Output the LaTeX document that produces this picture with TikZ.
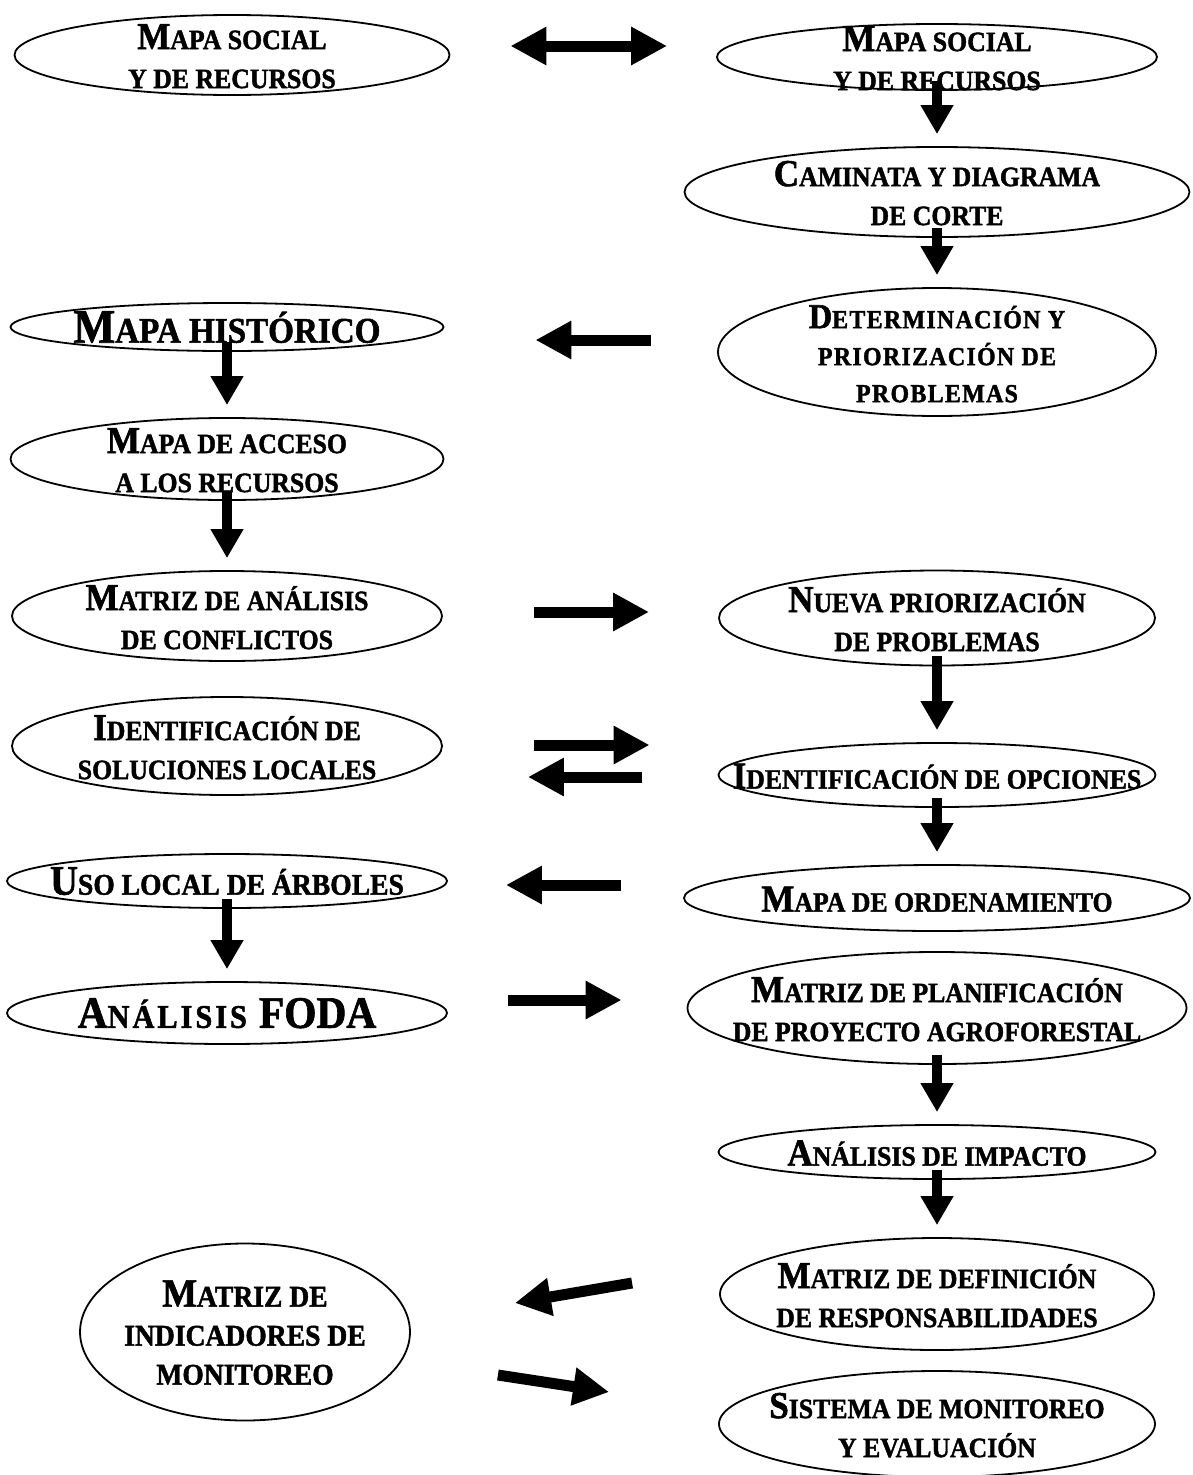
\documentclass[tikz,border=0pt]{standalone}
\usepackage{fontspec}
\setmainfont{Liberation Serif}[FakeStretch=0.92, BoldFeatures={FakeBold=1.5}]
\usetikzlibrary{arrows.meta,shapes.geometric}

% versalita: inicial grande, resto en mayusculas pequenas
\newcommand\ini[2][38]{{\fontsize{#1}{#1}\selectfont #2}}
\newcommand\lema[1]{\smash{\makebox[0pt]{\raisebox{-12pt}{\begin{tabular}{@{}c@{}}#1\end{tabular}}}}}

\tikzset{
  letra/.style={font=\bfseries\fontsize{#1}{39}\selectfont},
  letra/.default=28,
  etapa/.style={draw, ellipse, line width=1.8pt, inner sep=0pt, letra},
  paso/.style={line width=10pt, shorten <=-10pt, shorten >=12pt,
    -{Triangle[length=29pt,width=31pt]}},
  cruce/.style={line width=11pt, -{Triangle[length=36pt,width=36pt]}}
}

\begin{document}
\begin{tikzpicture}[x=1pt, y=-1pt]
  \useasboundingbox (0,0) rectangle (1192,1475);

  % columna izquierda
  \node[etapa, minimum width=435, minimum height=80] (l1) at (232,55) {\lema{\ini{M}APA SOCIAL\\Y DE RECURSOS}};
  \node[etapa, minimum width=433, minimum height=48, letra=36] (l2) at (227,327) {\lema{\ini[48]{M}APA HISTÓRICO}};
  \node[etapa, minimum width=433, minimum height=82] (l3) at (227,459) {\lema{\ini{M}APA DE ACCESO\\A LOS RECURSOS}};
  \node[etapa, minimum width=430, minimum height=90] (l4) at (227,616) {\lema{\ini{M}ATRIZ DE ANÁLISIS\\DE CONFLICTOS}};
  \node[etapa, minimum width=430, minimum height=98] (l5) at (227,746) {\lema{\ini{I}DENTIFICACIÓN DE\\SOLUCIONES LOCALES}};
  \node[etapa, minimum width=440, minimum height=54, letra=30] (l6) at (227,881) {\lema{\ini[42]{U}SO LOCAL DE ÁRBOLES}};
  \node[etapa, minimum width=440, minimum height=62, letra=33] (l7) at (227,1013)
    {\lema{\ini[45]{A}{\addfontfeature{LetterSpace=9}NÁLISIS}\hspace{12pt}\ini[45]{FODA}}};
  \node[etapa, minimum width=330, minimum height=177, letra=30] (l8) at (245,1332) {\lema{\ini[40]{M}ATRIZ DE\\INDICADORES DE\\MONITOREO}};

  % columna derecha
  \node[etapa, minimum width=440, minimum height=66] (r1) at (937,57) {\lema{\ini{M}APA SOCIAL\\Y DE RECURSOS}};
  \node[etapa, minimum width=505, minimum height=90] (r2) at (937,192) {\lema{\ini{C}AMINATA Y DIAGRAMA\\DE CORTE}};
  \node[etapa, minimum width=438, minimum height=128, font={\bfseries\fontsize{26}{37}\selectfont\addfontfeature{LetterSpace=5}}] (r3) at (937,352)
    {\lema{\ini[35]{D}ETERMINACIÓN Y\\PRIORIZACIÓN DE\\PROBLEMAS}};
  \node[etapa, minimum width=436, minimum height=95] (r4) at (937,618) {\lema{\ini{N}UEVA PRIORIZACIÓN\\DE PROBLEMAS}};
  \node[etapa, minimum width=437, minimum height=64] (r5) at (937,775) {\lema{\ini{I}DENTIFICACIÓN DE OPCIONES}};
  \node[etapa, minimum width=506, minimum height=66] (r6) at (937,898) {\lema{\ini{M}APA DE ORDENAMIENTO}};
  \node[etapa, minimum width=499, minimum height=112] (r7) at (937,1008) {\lema{\ini{M}ATRIZ DE PLANIFICACIÓN\\DE PROYECTO AGROFORESTAL}};
  \node[etapa, minimum width=437, minimum height=54] (r8) at (937,1152) {\lema{\ini{A}NÁLISIS DE IMPACTO}};
  \node[etapa, minimum width=434, minimum height=112] (r9) at (937,1294) {\lema{\ini{M}ATRIZ DE DEFINICIÓN\\DE RESPONSABILIDADES}};
  \node[etapa, minimum width=436, minimum height=106] (r10) at (937,1424) {\lema{\ini{S}ISTEMA DE MONITOREO\\Y EVALUACIÓN}};

  % flechas verticales
  \foreach \a/\b in {r1/r2, r2/r3, l2/l3, l3/l4, r4/r5, r5/r6, l6/l7, r7/r8, r8/r9}
    \draw[paso] (\a.south) -- (\b.north);

  % flechas entre columnas
  \draw[cruce, {Triangle[length=36pt,width=36pt]}-{Triangle[length=36pt,width=36pt]}]
    ([xshift=60pt,yshift=9pt]l1.east) -- ([xshift=-49pt,yshift=11pt]r1.west);
  \draw[cruce] ([xshift=-66pt,yshift=12pt]r3.west) -- ([xshift=91pt,yshift=-13pt]l2.east);
  \draw[cruce] ([xshift=91pt,yshift=4pt]l4.east) -- ([xshift=-69pt,yshift=6pt]r4.west);
  \draw[cruce] ([xshift=91pt,yshift=1pt]l5.east) -- ([xshift=-68pt,yshift=30pt]r5.west);
  \draw[cruce] ([xshift=-76pt,yshift=-2pt]r5.west) -- ([xshift=85pt,yshift=-31pt]l5.east);
  \draw[cruce] ([xshift=-62pt,yshift=13pt]r6.west) -- ([xshift=58pt,yshift=-4pt]l6.east);
  \draw[cruce] ([xshift=60pt,yshift=13pt]l7.east) -- ([xshift=-65pt,yshift=8pt]r7.west);
  \draw[cruce] ([xshift=-87pt,yshift=11pt]r9.west) -- ([xshift=104pt,yshift=29pt]l8.east);
  \draw[cruce] ([xshift=87pt,yshift=-43pt]l8.east) -- ([xshift=-109pt,yshift=32pt]r10.west);
\end{tikzpicture}
\end{document}
